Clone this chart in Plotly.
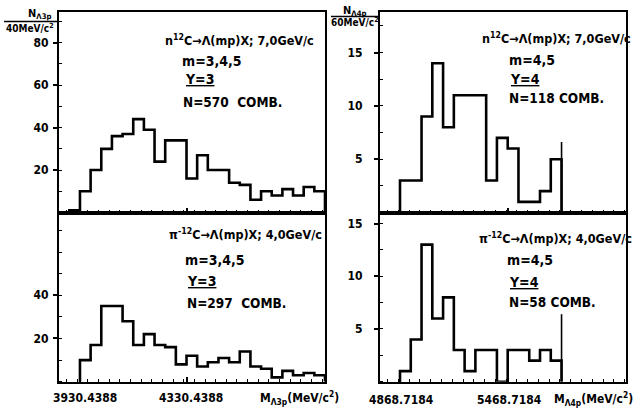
import numpy as np
import plotly.graph_objects as go

W, H = 638, 411

# ---------------- data ----------------
tl_start, tl_width = 3890.4388, 40.0
tl_counts = [1, 10, 20, 30, 36, 37, 44, 39, 24, 34, 34, 16, 27, 20, 20, 14, 13, 6, 10, 8, 11, 8, 12, 10]

bl_start, bl_width = 3930.4388, 40.0
bl_counts = [10, 17, 35, 35, 28, 17, 22, 17, 16, 8, 12, 7, 9, 11, 9, 14, 7, 6, 2, 5, 3, 4, 3]

tr_start, tr_width = 4868.7184, 60.0
tr_counts = [3, 3, 9, 14, 8, 11, 11, 11, 3, 7, 6, 1, 1, 2, 5]

br_start, br_width = 4868.7184, 60.0
br_counts = [1, 4, 13, 6, 8, 3, 1, 3, 3, 0, 3, 3, 2, 3, 2]

limit_x = [5768.7184, 5768.7184]
limit_top = [6.6, 6.4]

left_xticks = [3930.4388, 4330.4388]
left_xticktext = ["3930.4388", "4330.4388"]
right_xticks = [4868.7184, 5468.7184]
right_xticktext = ["4868.7184", "5468.7184"]

tl_yticks = [20, 40, 60, 80]
bl_yticks = [20, 40]
tr_yticks = [5, 10, 15]
br_yticks = [5, 10, 15]

texts_tl = ["n<sup>12</sup>C→Λ(mp)X; 7,0GeV/c", "m=3,4,5", "<u>Y=3</u>", "N=570  COMB."]
texts_bl = ["π<sup>-12</sup>C→Λ(mp)X; 4,0GeV/c", "m=3,4,5", "<u>Y=3</u>", "N=297  COMB."]
texts_tr = ["n<sup>12</sup>C→Λ(mp)X; 7,0GeV/c", "m=4,5", "<u>Y=4</u>", "N=118 COMB."]
texts_br = ["π<sup>-12</sup>C→Λ(mp)X; 4,0GeV/c", "m=4,5", "<u>Y=4</u>", "N=58 COMB."]

# ---------------- layout helpers ----------------
FONT = "DejaVu Sans Condensed, DejaVu Sans, Liberation Sans Narrow, sans-serif"


def fx(px):
    return px / W


def fy(py):
    return 1 - py / H


def step_xy(start, width, counts):
    edges = start + width * np.arange(len(counts) + 1)
    xs = [edges[0]] + list(edges[:-1]) + [edges[-1]]
    ys = [0] + list(counts) + [0]
    return xs, ys


fig = go.Figure()

panels = [
    ("tl", tl_counts, tl_start, tl_width, "x", "y"),
    ("bl", bl_counts, bl_start, bl_width, "x2", "y2"),
    ("tr", tr_counts, tr_start, tr_width, "x3", "y3"),
    ("br", br_counts, br_start, br_width, "x4", "y4"),
]
for name, counts, start, width, xa, ya in panels:
    xs, ys = step_xy(start, width, counts)
    fig.add_trace(go.Scatter(x=xs, y=ys, mode="lines", line=dict(color="black", width=2.6, shape="hv"),
                             xaxis=xa, yaxis=ya, showlegend=False, hoverinfo="skip"))

for lx, lt, xa, ya in zip(limit_x, limit_top, ["x3", "x4"], ["y3", "y4"]):
    fig.add_trace(go.Scatter(x=[lx, lx], y=[0, lt], mode="lines", line=dict(color="black", width=1.6),
                             xaxis=xa, yaxis=ya, showlegend=False, hoverinfo="skip"))

left_dom = [fx(59), fx(325)]
right_dom = [fx(380), fx(626)]
top_dom = [fy(212.5), fy(12)]
bot_dom = [fy(381.7), fy(212.5)]

axfont = dict(family=FONT, size=12, color="black", weight="bold")


def xaxis(dom, rng, anchor, tickvals, minor_dt):
    return dict(domain=dom, range=rng, anchor=anchor, showgrid=False, zeroline=False, automargin=False,
                showline=True, linecolor="black", linewidth=2, mirror=True,
                tickmode="array", tickvals=tickvals, showticklabels=False,
                ticks="inside", ticklen=5, tickwidth=1.5, tickcolor="black",
                minor=dict(ticks="inside", ticklen=3, dtick=minor_dt, tickcolor="black", tickwidth=1),
                fixedrange=True)


def yaxis(dom, rng, anchor, tickvals, minor_dt, standoff):
    return dict(domain=dom, range=rng, anchor=anchor, showgrid=False, zeroline=False, automargin=False,
                showline=True, linecolor="black", linewidth=2, mirror=True,
                tickmode="array", tickvals=tickvals, ticktext=[str(v) for v in tickvals],
                ticks="outside", ticklen=4, tickwidth=1.5, tickcolor="black",
                minor=dict(ticks="inside", ticklen=3, dtick=minor_dt, tick0=0, tickcolor="black", tickwidth=1),
                tickfont=axfont, ticklabelstandoff=standoff, fixedrange=True)


left_rng = [3851.7, 4850.44]
right_rng = [4757.3, 6127.8]

fig.update_layout(
    width=W, height=H, margin=dict(l=0, r=0, t=0, b=0, pad=0, autoexpand=False),
    paper_bgcolor="white", plot_bgcolor="white",
    font=dict(family=FONT, color="black", weight="bold"),
    xaxis=xaxis(left_dom, left_rng, "y", left_xticks, 40),
    yaxis=yaxis(top_dom, [0, 94.5], "x", tl_yticks, 10, 2),
    xaxis2=xaxis(left_dom, left_rng, "y2", left_xticks, 40),
    yaxis2=yaxis(bot_dom, [0, 78.3], "x2", bl_yticks, 10, 2),
    xaxis3=xaxis(right_dom, right_rng, "y3", right_xticks, 60),
    yaxis3=yaxis(top_dom, [0, 18.8], "x3", tr_yticks, 2.5, 9),
    xaxis4=xaxis(right_dom, right_rng, "y4", right_xticks, 60),
    yaxis4=yaxis(bot_dom, [0, 16.05], "x4", br_yticks, 2.5, 9),
)

ann = []


def add_text(txt, x, y, size=12, xanchor="left", xref="paper"):
    ann.append(dict(text=txt, x=(fx(x) if xref == "paper" else x), y=fy(y), xref=xref, yref="paper",
                    xanchor=xanchor, yanchor="middle",
                    showarrow=False, font=dict(family=FONT, size=size, color="black", weight="bold")))


# panel texts
for texts, x0, ys in [
    (texts_tl, [163, 180, 183, 181], [40, 61, 79, 102]),
    (texts_bl, [167, 183, 185, 185], [234, 260, 281, 303]),
    (texts_tr, [480, 507, 508, 507], [38, 60, 79, 98]),
    (texts_br, [477, 505, 507, 507], [238, 260, 282, 302]),
]:
    for i, (t, xx, yy) in enumerate(zip(texts, x0, ys)):
        add_text(t, xx, yy, size=[12.5, 14, 14, 13.5][i])

# x tick labels (bottom panels), placed at the tick values
for v, t in zip(left_xticks, left_xticktext):
    add_text(t, v + 18, 398, size=12, xanchor="center", xref="x2")
for v, t in zip(right_xticks, right_xticktext):
    add_text(t, v + 10, 400, size=12, xanchor="center", xref="x4")

# axis titles
add_text("N<sub>Λ3p</sub>", 40, 14, size=11, xanchor="center")
add_text("40MeV/c<sup>2</sup>", 30, 28, size=10, xanchor="center")
add_text("N<sub>Λ4p</sub>", 354, 11, size=11, xanchor="center")
add_text("60MeV/c<sup>2</sup>", 355, 22, size=10, xanchor="center")
add_text("M<sub>Λ3p</sub>(MeV/c<sup>2</sup>)", 258, 398, size=12)
add_text("M<sub>Λ4p</sub>(MeV/c<sup>2</sup>)", 552, 399, size=12)

fig.update_layout(annotations=ann)

# fraction bars of the y-axis titles
fig.add_shape(type="line", xref="paper", yref="paper", x0=fx(4), x1=fx(58), y0=fy(21.5), y1=fy(21.5),
              line=dict(color="black", width=1.5))
fig.add_shape(type="line", xref="paper", yref="paper", x0=fx(331), x1=fx(378), y0=fy(16.5), y1=fy(16.5),
              line=dict(color="black", width=1.5))

fig.write_html("out.html", config={"displayModeBar": False},
               post_script="document.body.style.margin='0';document.body.style.overflow='hidden';")
